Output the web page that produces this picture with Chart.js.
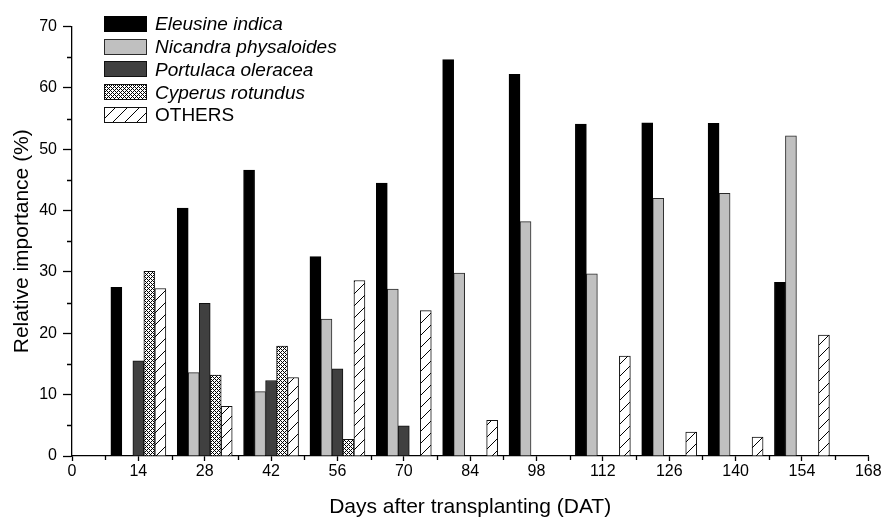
<!DOCTYPE html>
<html>
<head>
<meta charset="utf-8">
<script src="https://cdn.jsdelivr.net/npm/chart.js@4.4.0/dist/chart.umd.min.js"></script>
<style>
html,body{margin:0;padding:0;background:#fff;}
#wrap{position:relative;width:883px;height:521px;}
#legend{position:absolute;left:104px;top:12.4px;font-family:"Liberation Sans",Arial,sans-serif;font-size:19px;color:#000;line-height:1;}
.row{display:flex;align-items:center;height:22.75px;white-space:nowrap;}
.row canvas{display:block;margin-right:8px;}
.it{font-style:italic;}
</style>
</head>
<body>
<div id="wrap">
<canvas id="c" width="883" height="521"></canvas>
<div id="legend"></div>
</div>
<script>
// Days after transplanting (category positions on the linear x axis)
const days = [14, 28, 42, 56, 70, 84, 98, 112, 126, 140, 154];
// Relative importance (%) per species
const eleusine  = [27.5, 40.4, 46.6, 32.5, 44.5, 64.6, 62.2, 54.1, 54.3, 54.2, 28.3];
const nicandra  = [0, 13.6, 10.5, 22.3, 27.2, 29.8, 38.2, 29.7, 42.0, 42.8, 52.2];
const portulaca = [15.5, 24.9, 12.3, 14.2, 4.9, 0, 0, 0, 0, 0, 0];
const cyperus   = [30.1, 13.2, 17.9, 2.7, 0, 0, 0, 0, 0, 0, 0];
const others    = [27.3, 8.1, 12.8, 28.6, 23.7, 5.8, 0, 16.3, 3.9, 3.1, 19.7];
const seriesNames = ['Eleusine indica', 'Nicandra physaloides', 'Portulaca oleracea', 'Cyperus rotundus', 'OTHERS'];
const italicNames = [true, true, true, true, false];
const xTicks = [0, 14, 28, 42, 56, 70, 84, 98, 112, 126, 140, 154, 168];
const yTicks = [0, 10, 20, 30, 40, 50, 60, 70];
const xMinorTicks = [7, 21, 35, 49, 63, 77, 91, 105, 119, 133, 147, 161];
const yMinorTicks = [5, 15, 25, 35, 45, 55, 65];

function makeCross() {
  const c = document.createElement('canvas'); c.width = 4; c.height = 4;
  const g = c.getContext('2d');
  g.fillStyle = '#fff'; g.fillRect(0, 0, 4, 4);
  g.fillStyle = '#000';
  for (let x = 0; x < 4; x++) for (let y = 0; y < 4; y++) {
    if ((x + y) % 4 === 0 || ((x - y) % 4 + 4) % 4 === 0) g.fillRect(x, y, 1, 1);
  }
  return c;
}
function makeHatch() {
  const c = document.createElement('canvas'); c.width = 12; c.height = 12;
  const g = c.getContext('2d');
  g.fillStyle = '#fff'; g.fillRect(0, 0, 12, 12);
  g.strokeStyle = '#000'; g.lineWidth = 1;
  g.beginPath(); g.moveTo(-1, 13); g.lineTo(13, -1); g.stroke();
  return c;
}
const tmp = document.createElement('canvas').getContext('2d');
const crossPat = tmp.createPattern(makeCross(), 'repeat');
const hatchPat = tmp.createPattern(makeHatch(), 'repeat');

const fills = ['#000000', '#c0c0c0', '#404040', crossPat, hatchPat];
const borders = ['#000000', '#2a2a2a', '#111111', '#111111', '#111111'];
const values = [eleusine, nicandra, portulaca, cyperus, others];

const FONT = '"Liberation Sans", Arial, sans-serif';

const minorTicksPlugin = {
  id: 'minorTicks',
  afterDraw(chart) {
    const ctx = chart.ctx, xs = chart.scales.x, ys = chart.scales.y;
    ctx.save();
    ctx.strokeStyle = '#000'; ctx.lineWidth = 1.3;
    ctx.beginPath();
    yMinorTicks.forEach(v => {
      const py = Math.round(ys.getPixelForValue(v)) + 0.5;
      ctx.moveTo(xs.left - 5, py); ctx.lineTo(xs.left, py);
    });
    xMinorTicks.forEach(v => {
      const px = Math.round(xs.getPixelForValue(v)) + 0.5;
      ctx.moveTo(px, ys.bottom); ctx.lineTo(px, ys.bottom + 4);
    });
    ctx.stroke();
    ctx.restore();
  }
};

new Chart(document.getElementById('c'), {
  type: 'bar',
  data: {
    labels: days,
    datasets: seriesNames.map((n, i) => ({
      label: n,
      data: values[i],
      backgroundColor: fills[i],
      borderColor: borders[i],
      borderWidth: 1,
      barThickness: 11
    }))
  },
  options: {
    responsive: false,
    animation: false,
    devicePixelRatio: 1,
    layout: { padding: { top: 26.5, right: 14.7, left: 0, bottom: 0 } },
    plugins: { legend: { display: false }, tooltip: { enabled: false } },
    scales: {
      x: {
        type: 'linear',
        min: 0, max: 168,
        offset: false,
        afterBuildTicks: s => { s.ticks = xTicks.map(v => ({ value: v })); },
        afterFit: s => { s.height = 65; },
        grid: { display: true, offset: false, drawOnChartArea: false, drawTicks: true, tickLength: 5, tickColor: '#000', tickWidth: 1.3 },
        border: { display: true, color: '#000', width: 1.3 },
        ticks: { color: '#000', padding: 1, font: { family: FONT, size: 16 }, maxRotation: 0, autoSkip: false },
        title: { display: true, text: 'Days after transplanting (DAT)', color: '#000', font: { family: FONT, size: 21 }, padding: { top: 0, bottom: 1 } }
      },
      y: {
        min: 0, max: 70,
        afterBuildTicks: s => { s.ticks = yTicks.map(v => ({ value: v })); },
        afterFit: s => { s.width = 72; },
        grid: { display: true, drawOnChartArea: false, drawTicks: true, tickLength: 9, tickColor: '#000', tickWidth: 1.3 },
        border: { display: true, color: '#000', width: 1.3 },
        ticks: { color: '#000', padding: 6, font: { family: FONT, size: 16 } },
        title: { display: true, text: 'Relative importance (%)', color: '#000', font: { family: FONT, size: 21 }, padding: { top: 10, bottom: 0 } }
      }
    }
  },
  plugins: [minorTicksPlugin]
});

// HTML legend inside the plot area
const leg = document.getElementById('legend');
seriesNames.forEach((n, i) => {
  const row = document.createElement('div'); row.className = 'row';
  const sw = document.createElement('canvas'); sw.width = 43; sw.height = 16;
  const g = sw.getContext('2d');
  g.fillStyle = fills[i]; g.fillRect(0, 0, 43, 16);
  g.strokeStyle = borders[i]; g.lineWidth = 1; g.strokeRect(0.5, 0.5, 42, 15);
  const sp = document.createElement('span'); sp.textContent = n;
  if (italicNames[i]) sp.className = 'it';
  row.appendChild(sw); row.appendChild(sp);
  leg.appendChild(row);
});
</script>
</body>
</html>
